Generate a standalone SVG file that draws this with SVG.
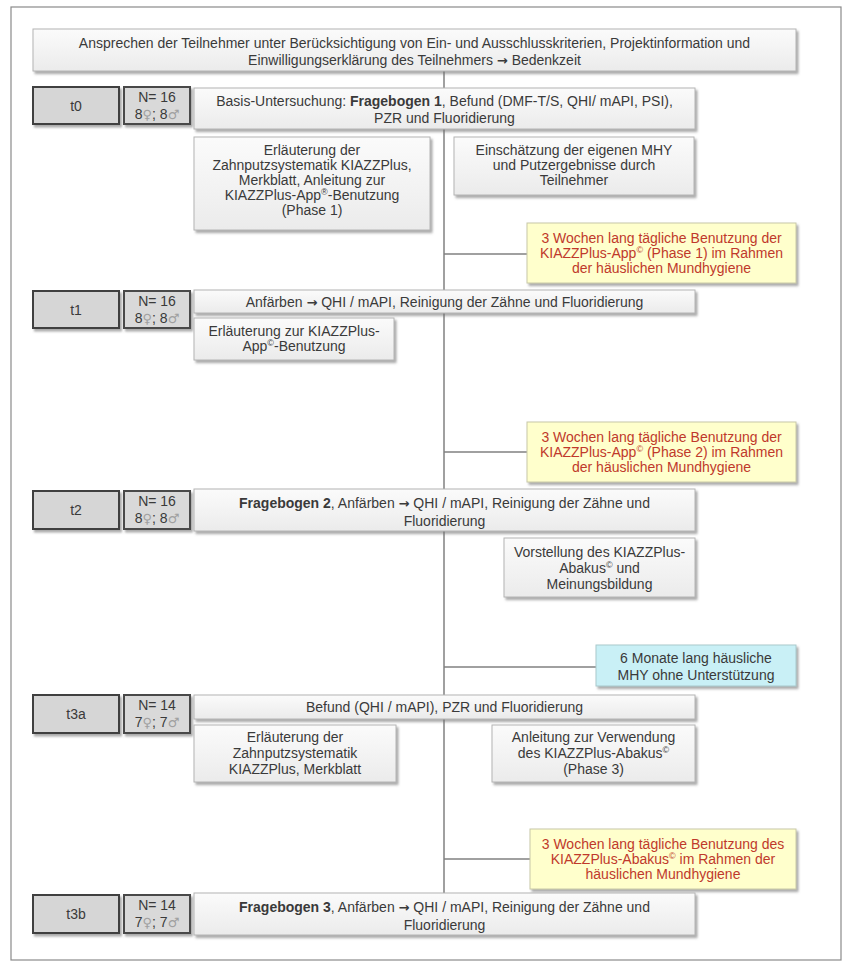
<svg xmlns="http://www.w3.org/2000/svg" width="843" height="970" viewBox="0 0 843 970">
<defs>
<linearGradient id="gb" x1="0" y1="0" x2="0" y2="1"><stop offset="0" stop-color="#fbfbfb"/><stop offset="1" stop-color="#ebebeb"/></linearGradient>
<filter id="sh" x="-5%" y="-10%" width="112%" height="135%"><feDropShadow dx="2" dy="2.5" stdDeviation="1" flood-color="#6f6f6f" flood-opacity="0.6"/></filter>
</defs>
<style>
text{font-family:"Liberation Sans",Arial,sans-serif;font-size:14px;fill:#3a3a3a;text-anchor:middle}
.box{fill:url(#gb);stroke:#b4b4b4;stroke-width:1;filter:url(#sh)}
.yel{fill:#ffffcc;stroke:#c8c8a8;stroke-width:1;filter:url(#sh)}
.cyan{fill:#c9f0f6;stroke:#a9c9cc;stroke-width:1;filter:url(#sh)}
.tb{fill:#d6d6d6;stroke:#3f3f3f;stroke-width:2;filter:url(#sh)}
.nb{fill:#d9d9d9;stroke:#4a4a4a;stroke-width:2;filter:url(#sh)}
.red{fill:#c0392b}
.g{fill:#a0a0a0;font-family:"DejaVu Sans",sans-serif;font-size:13px}
.ar{font-family:"DejaVu Sans",sans-serif;font-weight:bold;font-size:13px}
.ln{stroke:#808080;stroke-width:1.5;fill:none}
.b{font-weight:bold}
</style>
<rect x="11" y="7" width="830" height="953" fill="#ffffff" stroke="#8a8a8a" stroke-width="1.2"/>
<g id="connectors">
<line class="ln" x1="444" y1="71" x2="444" y2="893"/>
<line class="ln" x1="444" y1="254" x2="527" y2="254"/>
<line class="ln" x1="444" y1="452" x2="527" y2="452"/>
<line class="ln" x1="444" y1="667" x2="596" y2="667"/>
<line class="ln" x1="444" y1="859" x2="530" y2="859"/>
</g>
<g id="start">
<rect class="box" x="33" y="29" width="763" height="42"/>
<text x="414.5" y="48">Ansprechen der Teilnehmer unter Berücksichtigung von Ein- und Ausschlusskriterien, Projektinformation und</text>
<text x="414.5" y="65">Einwilligungserklärung des Teilnehmers <tspan class="ar">→</tspan> Bedenkzeit</text>
</g>
<g id="t0">
<rect class="tb" x="33" y="87" width="86" height="37"/>
<text x="76" y="110.5">t0</text>
</g>
<g id="n0">
<rect class="nb" x="124" y="87" width="66" height="37"/>
<text x="157" y="102">N= 16</text>
<text x="157" y="119">8<tspan class="g">♀</tspan>; 8<tspan class="g">♂</tspan></text>
</g>
<g id="basis">
<rect class="box" x="194" y="88" width="501" height="41"/>
<text x="444.5" y="105.5">Basis-Untersuchung: <tspan class="b">Fragebogen 1</tspan>, Befund (DMF-T/S, QHI/ mAPI, PSI),</text>
<text x="444.5" y="122.5">PZR und Fluoridierung</text>
</g>
<g id="erl1">
<rect class="box" x="194" y="137" width="236" height="93"/>
<text x="312" y="155">Erläuterung der</text>
<text x="312" y="170">Zahnputzsystematik KIAZZPlus,</text>
<text x="312" y="185">Merkblatt, Anleitung zur</text>
<text x="312" y="200">KIAZZPlus-App<tspan font-size="9" dy="-5">®</tspan><tspan dy="5">-Benutzung</tspan></text>
<text x="312" y="215">(Phase 1)</text>
</g>
<g id="einsch">
<rect class="box" x="454" y="137" width="240" height="58"/>
<text x="574" y="155">Einschätzung der eigenen MHY</text>
<text x="574" y="170">und Putzergebnisse durch</text>
<text x="574" y="185">Teilnehmer</text>
</g>
<g id="phase1">
<rect class="yel" x="527" y="223" width="269" height="60"/>
<text class="red" x="661.5" y="243">3 Wochen lang tägliche Benutzung der</text>
<text class="red" x="661.5" y="258">KIAZZPlus-App<tspan font-size="9" dy="-5">©</tspan><tspan dy="5"> (Phase 1) im Rahmen</tspan></text>
<text class="red" x="661.5" y="273">der häuslichen Mundhygiene</text>
</g>
<g id="t1">
<rect class="tb" x="33" y="291" width="86" height="37"/>
<text x="76" y="314.5">t1</text>
</g>
<g id="n1">
<rect class="nb" x="124" y="291" width="66" height="37"/>
<text x="157" y="306">N= 16</text>
<text x="157" y="323">8<tspan class="g">♀</tspan>; 8<tspan class="g">♂</tspan></text>
</g>
<g id="anf1">
<rect class="box" x="194" y="290" width="501" height="23"/>
<text x="444.5" y="306.5">Anfärben <tspan class="ar">→</tspan> QHI / mAPI, Reinigung der Zähne und Fluoridierung</text>
</g>
<g id="erl2">
<rect class="box" x="194" y="318" width="200" height="42"/>
<text x="294" y="335.5">Erläuterung zur KIAZZPlus-</text>
<text x="294" y="350.5">App<tspan font-size="9" dy="-5">©</tspan><tspan dy="5">-Benutzung</tspan></text>
</g>
<g id="phase2">
<rect class="yel" x="527" y="422" width="269" height="60"/>
<text class="red" x="661.5" y="442">3 Wochen lang tägliche Benutzung der</text>
<text class="red" x="661.5" y="457">KIAZZPlus-App<tspan font-size="9" dy="-5">©</tspan><tspan dy="5"> (Phase 2) im Rahmen</tspan></text>
<text class="red" x="661.5" y="472">der häuslichen Mundhygiene</text>
</g>
<g id="t2">
<rect class="tb" x="33" y="491" width="86" height="38"/>
<text x="76" y="515">t2</text>
</g>
<g id="n2">
<rect class="nb" x="124" y="491" width="66" height="38"/>
<text x="157" y="506">N= 16</text>
<text x="157" y="523">8<tspan class="g">♀</tspan>; 8<tspan class="g">♂</tspan></text>
</g>
<g id="frag2">
<rect class="box" x="194" y="489" width="501" height="42"/>
<text x="444.5" y="507.5"><tspan class="b">Fragebogen 2</tspan>, Anfärben <tspan class="ar">→</tspan> QHI / mAPI, Reinigung der Zähne und</text>
<text x="444.5" y="525.5">Fluoridierung</text>
</g>
<g id="vorst">
<rect class="box" x="504" y="538" width="191" height="59"/>
<text x="599.5" y="556.5">Vorstellung des KIAZZPlus-</text>
<text x="599.5" y="572.5">Abakus<tspan font-size="9" dy="-5">©</tspan><tspan dy="5"> und</tspan></text>
<text x="599.5" y="588.5">Meinungsbildung</text>
</g>
<g id="sixm">
<rect class="cyan" x="596" y="645" width="200" height="41"/>
<text x="696" y="662.5">6 Monate lang häusliche</text>
<text x="696" y="679.5">MHY ohne Unterstützung</text>
</g>
<g id="t3a">
<rect class="tb" x="33" y="695" width="86" height="38"/>
<text x="76" y="719">t3a</text>
</g>
<g id="n3a">
<rect class="nb" x="124" y="695" width="66" height="38"/>
<text x="157" y="710">N= 14</text>
<text x="157" y="727">7<tspan class="g">♀</tspan>; 7<tspan class="g">♂</tspan></text>
</g>
<g id="befund">
<rect class="box" x="194" y="695" width="501" height="24"/>
<text x="444.5" y="712">Befund (QHI / mAPI), PZR und Fluoridierung</text>
</g>
<g id="erl3">
<rect class="box" x="194" y="725" width="202" height="57"/>
<text x="295" y="742">Erläuterung der</text>
<text x="295" y="758">Zahnputzsystematik</text>
<text x="295" y="774">KIAZZPlus, Merkblatt</text>
</g>
<g id="anl">
<rect class="box" x="492" y="725" width="203" height="57"/>
<text x="593.5" y="742">Anleitung zur Verwendung</text>
<text x="593.5" y="758">des KIAZZPlus-Abakus<tspan font-size="9" dy="-5">©</tspan></text>
<text x="593.5" y="774">(Phase 3)</text>
</g>
<g id="phase3">
<rect class="yel" x="530" y="829" width="266" height="60"/>
<text class="red" x="663" y="849">3 Wochen lang tägliche Benutzung des</text>
<text class="red" x="663" y="864">KIAZZPlus-Abakus<tspan font-size="9" dy="-5">©</tspan><tspan dy="5"> im Rahmen der</tspan></text>
<text class="red" x="663" y="879">häuslichen Mundhygiene</text>
</g>
<g id="t3b">
<rect class="tb" x="33" y="895" width="86" height="38"/>
<text x="76" y="919">t3b</text>
</g>
<g id="n3b">
<rect class="nb" x="124" y="895" width="66" height="38"/>
<text x="157" y="910">N= 14</text>
<text x="157" y="927">7<tspan class="g">♀</tspan>; 7<tspan class="g">♂</tspan></text>
</g>
<g id="frag3">
<rect class="box" x="194" y="893" width="501" height="42"/>
<text x="444.5" y="911.5"><tspan class="b">Fragebogen 3</tspan>, Anfärben <tspan class="ar">→</tspan> QHI / mAPI, Reinigung der Zähne und</text>
<text x="444.5" y="929.5">Fluoridierung</text>
</g>
</svg>
